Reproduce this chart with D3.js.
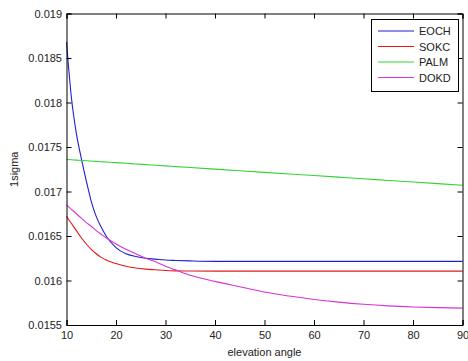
<!DOCTYPE html>
<html><head><meta charset="utf-8">
<script src="https://cdn.jsdelivr.net/npm/d3@7"></script>
<style>body{margin:0;background:#fff}svg{display:block}text{font-family:"Liberation Sans",Arial,sans-serif;fill:#222}</style>
</head><body><div id="chart"></div>
<script>
const angles = [10,11,12,13,14,15,16,17,18,20,22,24,26,28,30,32,35,40,45,50,55,60,65,70,75,80,85,90];
const seriesNames = ["EOCH","SOKC","PALM","DOKD"];
const EOCH = [0.01868,0.01805,0.01765,0.01737,0.01712,0.01689,0.01672,0.01660,0.01650,0.01637,0.01630,0.01627,0.01625,0.01624,0.01623,0.016225,0.01622,0.016215,0.016215,0.016215,0.016215,0.016215,0.016215,0.016215,0.016215,0.016215,0.016215,0.016215];
const SOKC = [0.01672,0.01664,0.01656,0.01648,0.01641,0.01635,0.01630,0.01626,0.01623,0.01619,0.01616,0.01614,0.016128,0.01612,0.016112,0.016108,0.016106,0.016105,0.016105,0.016105,0.016105,0.016105,0.016105,0.016105,0.016105,0.016105,0.016105,0.016105];
const PALM = [0.017360,0.017356,0.017353,0.017349,0.017346,0.017342,0.017338,0.017335,0.017331,0.017324,0.017317,0.017309,0.017302,0.017295,0.017288,0.017280,0.017269,0.017251,0.017233,0.017215,0.017197,0.017179,0.017161,0.017143,0.017124,0.017106,0.017088,0.017070];
const DOKD = [0.01685,0.01680,0.01675,0.01670,0.01665,0.01661,0.01656,0.01652,0.01648,0.01641,0.01635,0.01630,0.01625,0.01621,0.01616,0.01612,0.01606,0.01599,0.01593,0.015870,0.015825,0.015787,0.015757,0.015733,0.015715,0.015703,0.015695,0.015690];
const colors = ["#1f1fd0","#e41a1a","#33d433","#d633d6"];
const xTicks = [10,20,30,40,50,60,70,80,90];
const yTicks = [0.0155,0.016,0.0165,0.017,0.0175,0.018,0.0185,0.019];
const yTickLabels = ["0.0155","0.016","0.0165","0.017","0.0175","0.018","0.0185","0.019"];

const W = 468, H = 361;
const m = {left:66.5, top:13.5, right:5.5, bottom:36};
const svg = d3.select("#chart").append("svg").attr("width",W).attr("height",H);
const x = d3.scaleLinear().domain([10,90]).range([m.left, W-m.right]);
const y = d3.scaleLinear().domain([0.0155,0.019]).range([H-m.bottom, m.top]);

const allData = [EOCH,SOKC,PALM,DOKD];
const line = d3.line().x((d,i)=>x(angles[i])).y(d=>y(d)).curve(d3.curveMonotoneX);
const g = svg.append("g");
allData.forEach((vals,k)=>{
  g.append("path").datum(vals).attr("d",line).attr("fill","none").attr("stroke",colors[k]).attr("stroke-width",1.1);
});

const tl = 5;
const axB = d3.axisBottom(x).tickValues(xTicks).tickSize(-tl).tickPadding(6).tickFormat(d3.format("d"));
const axT = d3.axisTop(x).tickValues(xTicks).tickSize(-tl).tickFormat("");
const axL = d3.axisLeft(y).tickValues(yTicks).tickSize(-tl).tickPadding(4.5).tickFormat((d,i)=>yTickLabels[i]);
const axR = d3.axisRight(y).tickValues(yTicks).tickSize(-tl).tickFormat("");
function style(sel){sel.selectAll("path").attr("stroke","#000");sel.selectAll("line").attr("stroke","#000");sel.selectAll("text").attr("font-size",11).attr("fill","#222").attr("font-family","'Liberation Sans',Arial,sans-serif");}
svg.append("g").attr("transform",`translate(0,${H-m.bottom})`).call(axB).call(style);
svg.append("g").attr("transform",`translate(0,${m.top})`).call(axT).call(style);
svg.append("g").attr("transform",`translate(${m.left},0)`).call(axL).call(style);
svg.append("g").attr("transform",`translate(${W-m.right},0)`).call(axR).call(style);

svg.append("text").attr("x",(m.left+W-m.right)/2).attr("y",356).attr("text-anchor","middle").attr("font-size",11).text("elevation angle");
svg.append("text").attr("transform",`translate(18,${(m.top+H-m.bottom)/2}) rotate(-90)`).attr("text-anchor","middle").attr("font-size",11).text("1sigma");

const lg = svg.append("g");
lg.append("rect").attr("x",371.5).attr("y",19.5).attr("width",87).attr("height",72).attr("fill","#fff").attr("stroke","#000");
seriesNames.forEach((n,k)=>{
  const yy = 31 + k*15.5;
  lg.append("line").attr("x1",378).attr("x2",414).attr("y1",yy).attr("y2",yy).attr("stroke",colors[k]).attr("stroke-width",1.1);
  lg.append("text").attr("x",419).attr("y",yy+4).attr("font-size",11).text(n);
});
</script></body></html>
